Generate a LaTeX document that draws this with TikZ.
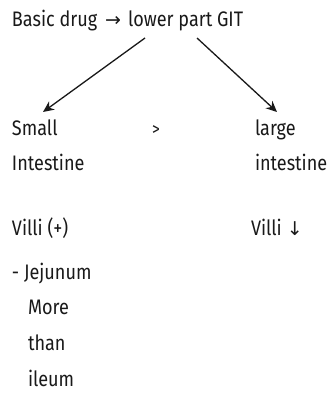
\documentclass[tikz,border=0pt]{standalone}
\usepackage{fontspec}
\setmainfont[FakeStretch=0.86]{Fira Sans}
\newfontfamily\symfont{DejaVu Sans}
\usetikzlibrary{arrows.meta}
\tikzset{
  txt/.style={anchor=base west, inner sep=0pt, outer sep=0pt, text=black!90, font=\fontsize{21}{23}\selectfont},
  arr/.style={line width=1.3pt, draw=black!90, -{Stealth[length=11pt,width=10pt]}}
}
\begin{document}
\begin{tikzpicture}[x=1pt,y=-1pt]
\useasboundingbox[fill=white] (0,0) rectangle (333,396);
\node[txt] (t1) at (12,27) {Basic drug\hspace{8pt}{\symfont\fontsize{19}{20}\selectfont →}\hspace{7pt}lower part GIT};
\node[txt] (small) at (12,135) {Small};
\node[txt] (gt) at (152,135) {\fontsize{18}{20}\selectfont >};
\node[txt] (large) at (255,135) {large};
\node[txt] (intl) at (12,170) {Intestine};
\node[txt] (intr) at (255,170) {intestine};
\node[txt] (villil) at (12,235) {Villi (+)};
\node[txt] (villir) at (251,235) {Villi\hspace{5pt}{\symfont\fontsize{19}{20}\selectfont ↓}};
\node[txt] (jej) at (12,279) {- Jejunum};
\node[txt] (more) at (28,314) {More};
\node[txt] (than) at (28,350) {than};
\node[txt] (ileum) at (28,386) {ileum};
\coordinate (s1) at (145,38);
\coordinate (e1) at (43,112);
\coordinate (s2) at (197,38);
\coordinate (e2) at (277,112);
\draw[arr] (s1) -- (e1);
\draw[arr] (s2) -- (e2);
\end{tikzpicture}
\end{document}
